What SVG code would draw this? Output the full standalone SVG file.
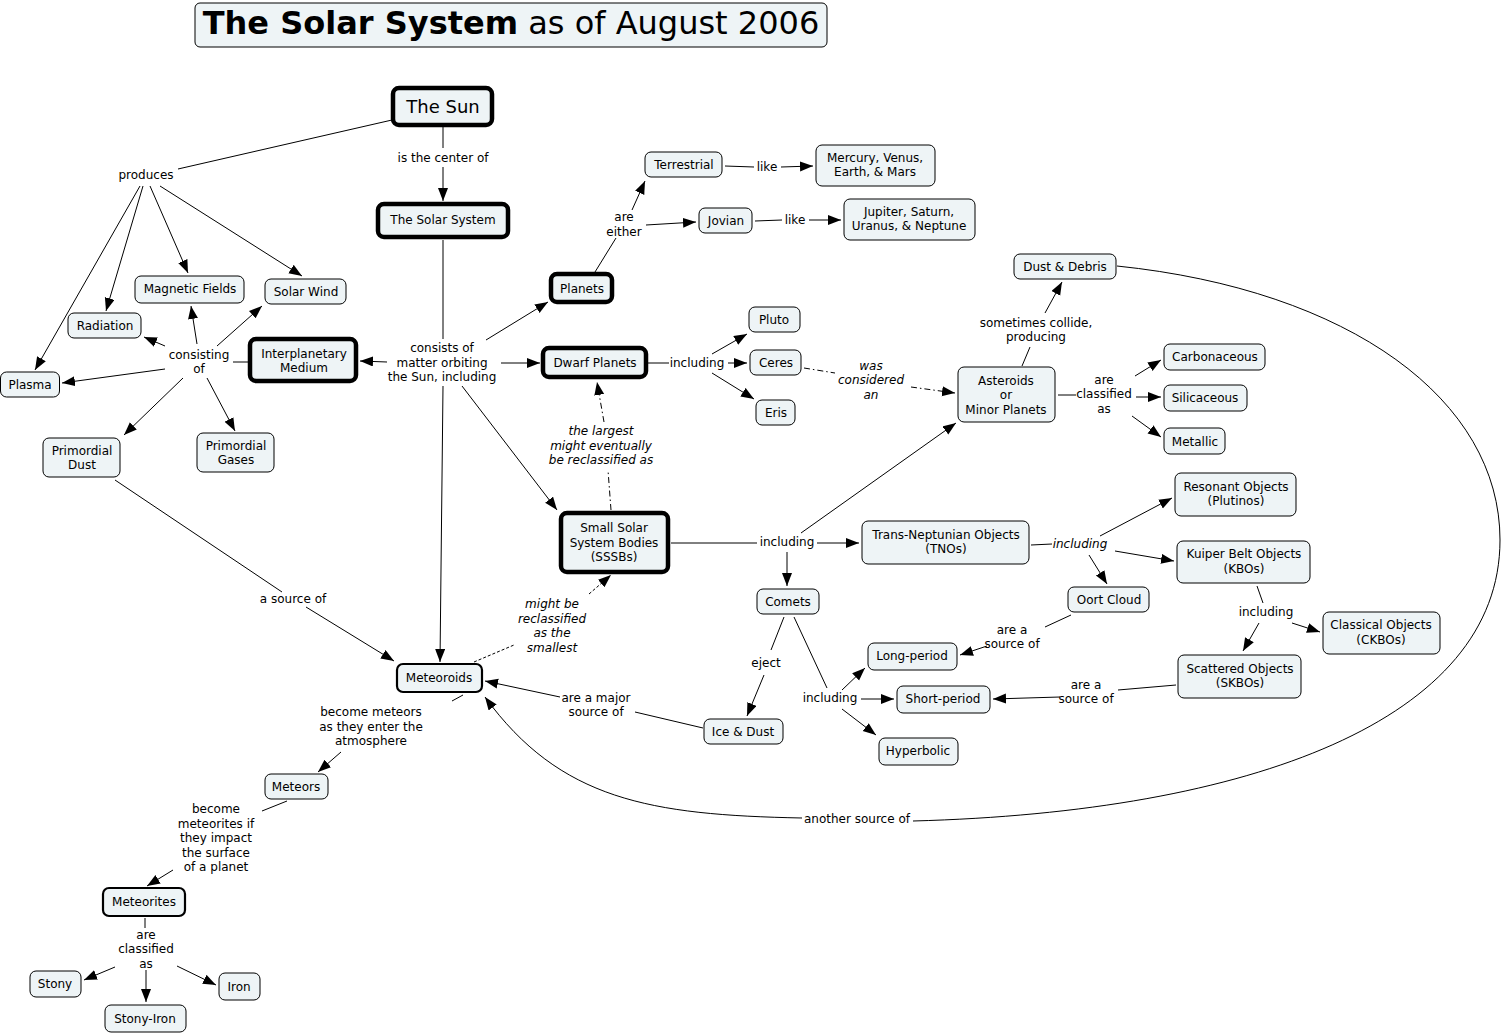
<svg xmlns="http://www.w3.org/2000/svg" width="1503" height="1035" viewBox="0 0 1503 1035">
<style>
text{font-family:"DejaVu Sans","Verdana",sans-serif;font-size:12px;fill:#000;text-anchor:middle}
.n rect{fill:#EEF4F6;stroke:#000;stroke-width:1}
.t rect{stroke-width:4.5}
.m rect{stroke-width:2.2}
.c line,.c path{stroke:#000;stroke-width:1;fill:none}
.c .a{marker-end:url(#ah)}
.c .d{stroke-dasharray:6 3 1.5 3}
.c .ds{stroke-dasharray:3 2}
.i{font-style:italic}
</style>
<defs>
<marker id="ah" markerUnits="userSpaceOnUse" markerWidth="14" markerHeight="12" refX="13" refY="5" orient="auto">
<path d="M0,0 L13,5 L0,10 Z" fill="#000"/>
</marker>
</defs>
<rect width="1503" height="1035" fill="#fff"/>
<g id="title" class="n"><rect x="195" y="3" width="632" height="44" rx="5"/><text x="511" y="34" style="font-size:32px"><tspan font-weight="bold">The Solar System</tspan> as of August 2006</text></g>

<g class="c" id="connectors">
<line x1="392" y1="120" x2="178" y2="169"/>
<line class="a" x1="140" y1="186" x2="35" y2="370"/>
<line class="a" x1="143" y1="186" x2="106" y2="311"/>
<line class="a" x1="150" y1="186" x2="188" y2="273"/>
<line class="a" x1="160" y1="186" x2="302" y2="276"/>
<line x1="443" y1="127" x2="443" y2="148"/>
<line class="a" x1="443" y1="167" x2="443" y2="201"/>
<line x1="443" y1="240" x2="443" y2="339"/>
<line class="a" x1="387" y1="362" x2="360" y2="361"/>
<line class="a" x1="486" y1="340" x2="548" y2="302"/>
<line class="a" x1="501" y1="363" x2="540" y2="363"/>
<line class="a" x1="462" y1="386" x2="557" y2="510"/>
<line class="a" x1="443" y1="386" x2="440" y2="662"/>
<line x1="248" y1="362" x2="233" y2="362"/>
<line class="a" x1="165" y1="346" x2="144" y2="337"/>
<line class="a" x1="197" y1="344" x2="191" y2="306"/>
<line class="a" x1="217" y1="346" x2="262" y2="306"/>
<line class="a" x1="165" y1="369" x2="62" y2="383"/>
<line class="a" x1="183" y1="378" x2="124" y2="435"/>
<line class="a" x1="207" y1="378" x2="235" y2="431"/>
<line x1="595" y1="272" x2="616" y2="238"/>
<line class="a" x1="632" y1="210" x2="645" y2="181"/>
<line class="a" x1="646" y1="225" x2="696" y2="222"/>
<line x1="725" y1="166" x2="754" y2="167"/>
<line class="a" x1="781" y1="167" x2="813" y2="166"/>
<line x1="755" y1="221" x2="782" y2="220"/>
<line class="a" x1="809" y1="220" x2="841" y2="220"/>
<line x1="648" y1="363" x2="669" y2="363"/>
<line class="a" x1="712" y1="354" x2="747" y2="334"/>
<line class="a" x1="728" y1="363" x2="747" y2="363"/>
<line class="a" x1="712" y1="373" x2="754" y2="399"/>
<line class="d" x1="804" y1="368" x2="835" y2="373"/>
<line class="a d" x1="911" y1="387" x2="955" y2="393"/>
<line class="d" x1="611" y1="510" x2="608" y2="470"/>
<line class="a d" x1="604" y1="422" x2="597" y2="382"/>
<line class="ds" x1="474" y1="662" x2="514" y2="645"/>
<line class="a ds" x1="589" y1="594" x2="611" y2="575"/>
<line x1="671" y1="543" x2="757" y2="543"/>
<line class="a" x1="817" y1="543" x2="859" y2="543"/>
<line class="a" x1="787" y1="552" x2="787" y2="586"/>
<line class="a" x1="801" y1="533" x2="956" y2="423"/>
<line x1="1022" y1="366" x2="1030" y2="347"/>
<line class="a" x1="1045" y1="313" x2="1062" y2="282"/>
<line x1="1058" y1="395" x2="1076" y2="395"/>
<line class="a" x1="1135" y1="376" x2="1161" y2="360"/>
<line class="a" x1="1136" y1="397" x2="1161" y2="397"/>
<line class="a" x1="1132" y1="416" x2="1161" y2="437"/>
<line x1="1031" y1="545" x2="1052" y2="544"/>
<line class="a" x1="1100" y1="536" x2="1172" y2="498"/>
<line class="a" x1="1115" y1="551" x2="1174" y2="561"/>
<line class="a" x1="1089" y1="555" x2="1107" y2="584"/>
<line x1="1257" y1="586" x2="1263" y2="603"/>
<line class="a" x1="1292" y1="623" x2="1320" y2="632"/>
<line class="a" x1="1259" y1="623" x2="1243" y2="651"/>
<line x1="1071" y1="615" x2="1045" y2="627"/>
<line class="a" x1="987" y1="646" x2="960" y2="655"/>
<line x1="1176" y1="685" x2="1118" y2="690"/>
<line class="a" x1="1060" y1="697" x2="993" y2="699"/>
<line x1="784" y1="617" x2="771" y2="650"/>
<line class="a" x1="764" y1="675" x2="747" y2="716"/>
<line x1="794" y1="617" x2="827" y2="688"/>
<line class="a" x1="842" y1="690" x2="865" y2="668"/>
<line class="a" x1="861" y1="699" x2="894" y2="699"/>
<line class="a" x1="842" y1="709" x2="876" y2="735"/>
<line x1="703" y1="728" x2="635" y2="712"/>
<line class="a" x1="560" y1="697" x2="485" y2="681"/>
<line x1="115" y1="480" x2="282" y2="592"/>
<line class="a" x1="306" y1="607" x2="394" y2="661"/>
<path d="M1117,266 C1350,290 1500,400 1500,540 C1500,720 1250,812 913,821"/>
<path class="a" d="M802,818 C650,815 560,800 485,697"/>
<line x1="463" y1="695" x2="452" y2="701"/>
<line class="a" x1="341" y1="752" x2="318" y2="772"/>
<line x1="287" y1="801" x2="262" y2="811"/>
<line class="a" x1="173" y1="870" x2="147" y2="886"/>
<line x1="145" y1="918" x2="145" y2="928"/>
<line class="a" x1="115" y1="967" x2="84" y2="980"/>
<line class="a" x1="146" y1="970" x2="146" y2="1002"/>
<line class="a" x1="177" y1="966" x2="216" y2="985"/>
</g>

<g id="labels">
<text x="146" y="179">produces</text>
<text x="443" y="162">is the center of</text>
<text x="199" y="359">consisting</text><text x="199" y="373">of</text>
<text x="442" y="352">consists of</text><text x="442" y="367">matter orbiting</text><text x="442" y="381">the Sun, including</text>
<text x="624" y="221">are</text><text x="624" y="236">either</text>
<text x="767" y="171">like</text>
<text x="795" y="224">like</text>
<text x="697" y="367">including</text>
<text class="i" x="871" y="370">was</text><text class="i" x="871" y="384">considered</text><text class="i" x="871" y="399">an</text>
<text class="i" x="601" y="435">the largest</text><text class="i" x="601" y="450">might eventually</text><text class="i" x="601" y="464">be reclassified as</text>
<text x="1036" y="327">sometimes collide,</text><text x="1036" y="341">producing</text>
<text x="1104" y="384">are</text><text x="1104" y="398">classified</text><text x="1104" y="413">as</text>
<text x="787" y="546">including</text>
<text class="i" x="1080" y="548">including</text>
<text x="1266" y="616">including</text>
<text class="i" x="552" y="608">might be</text><text class="i" x="552" y="623">reclassified</text><text class="i" x="552" y="637">as the</text><text class="i" x="552" y="652">smallest</text>
<text x="293" y="603">a source of</text>
<text x="596" y="702">are a major</text><text x="596" y="716">source of</text>
<text x="766" y="667">eject</text>
<text x="830" y="702">including</text>
<text x="1012" y="634">are a</text><text x="1012" y="648">source of</text>
<text x="1086" y="689">are a</text><text x="1086" y="703">source of</text>
<text x="371" y="716">become meteors</text><text x="371" y="731">as they enter the</text><text x="371" y="745">atmosphere</text>
<text x="216" y="813">become</text><text x="216" y="828">meteorites if</text><text x="216" y="842">they impact</text><text x="216" y="857">the surface</text><text x="216" y="871">of a planet</text>
<text x="146" y="939">are</text><text x="146" y="953">classified</text><text x="146" y="968">as</text>
<text x="857" y="823">another source of</text>
</g>

<g id="sun" class="n t"><rect x="393" y="88" width="99" height="37" rx="6"/><text x="443" y="113" style="font-size:18px">The Sun</text></g>
<g id="solarsystem" class="n t"><rect x="378" y="204" width="130" height="33" rx="6"/><text x="443" y="224">The Solar System</text></g>
<g id="planets" class="n t"><rect x="551" y="274" width="61" height="28" rx="6"/><text x="582" y="293">Planets</text></g>
<g id="dwarf" class="n t"><rect x="543" y="348" width="103" height="29" rx="6"/><text x="595" y="367">Dwarf Planets</text></g>
<g id="sssb" class="n t"><rect x="561" y="513" width="107" height="59" rx="6"/><text x="614" y="532">Small Solar</text><text x="614" y="547">System Bodies</text><text x="614" y="561">(SSSBs)</text></g>
<g id="interplanetary" class="n t"><rect x="250" y="339" width="106" height="42" rx="6"/><text x="304" y="358">Interplanetary</text><text x="304" y="372">Medium</text></g>
<g id="meteoroids" class="n m"><rect x="397" y="664" width="85" height="28" rx="6"/><text x="439" y="682">Meteoroids</text></g>
<g id="meteorites" class="n m"><rect x="103" y="888" width="82" height="28" rx="6"/><text x="144" y="906">Meteorites</text></g>
<g id="terrestrial" class="n"><rect x="645" y="152" width="77" height="25" rx="6"/><text x="684" y="169">Terrestrial</text></g>
<g id="mvem" class="n"><rect x="816" y="145" width="119" height="41" rx="6"/><text x="875" y="162">Mercury, Venus,</text><text x="875" y="176">Earth, &amp; Mars</text></g>
<g id="jovian" class="n"><rect x="699" y="208" width="53" height="25" rx="6"/><text x="726" y="225">Jovian</text></g>
<g id="jsun" class="n"><rect x="844" y="199" width="131" height="41" rx="6"/><text x="909" y="216">Jupiter, Saturn,</text><text x="909" y="230">Uranus, &amp; Neptune</text></g>
<g id="magnetic" class="n"><rect x="135" y="276" width="109" height="27" rx="6"/><text x="190" y="293">Magnetic Fields</text></g>
<g id="solarwind" class="n"><rect x="265" y="279" width="81" height="25" rx="6"/><text x="306" y="296">Solar Wind</text></g>
<g id="radiation" class="n"><rect x="68" y="313" width="73" height="25" rx="6"/><text x="105" y="330">Radiation</text></g>
<g id="plasma" class="n"><rect x="0.5" y="372" width="59" height="25" rx="6"/><text x="30" y="389">Plasma</text></g>
<g id="pdust" class="n"><rect x="43" y="438" width="77" height="39" rx="6"/><text x="82" y="455">Primordial</text><text x="82" y="469">Dust</text></g>
<g id="pgases" class="n"><rect x="197" y="433" width="77" height="39" rx="6"/><text x="236" y="450">Primordial</text><text x="236" y="464">Gases</text></g>
<g id="pluto" class="n"><rect x="749" y="307" width="51" height="25" rx="6"/><text x="774" y="324">Pluto</text></g>
<g id="ceres" class="n"><rect x="750" y="350" width="51" height="25" rx="6"/><text x="776" y="367">Ceres</text></g>
<g id="eris" class="n"><rect x="756" y="400" width="39" height="25" rx="6"/><text x="776" y="417">Eris</text></g>
<g id="dustdebris" class="n"><rect x="1014" y="254" width="102" height="25" rx="6"/><text x="1065" y="271">Dust &amp; Debris</text></g>
<g id="asteroids" class="n"><rect x="958" y="367" width="97" height="55" rx="6"/><text x="1006" y="385">Asteroids</text><text x="1006" y="399">or</text><text x="1006" y="414">Minor Planets</text></g>
<g id="carbon" class="n"><rect x="1164" y="344" width="101" height="26" rx="6"/><text x="1215" y="361">Carbonaceous</text></g>
<g id="silic" class="n"><rect x="1164" y="385" width="83" height="26" rx="6"/><text x="1205" y="402">Silicaceous</text></g>
<g id="metallic" class="n"><rect x="1164" y="428" width="61" height="26" rx="6"/><text x="1195" y="446">Metallic</text></g>
<g id="resonant" class="n"><rect x="1175" y="473" width="121" height="43" rx="6"/><text x="1236" y="491">Resonant Objects</text><text x="1236" y="505">(Plutinos)</text></g>
<g id="kbo" class="n"><rect x="1177" y="541" width="133" height="42" rx="6"/><text x="1244" y="558">Kuiper Belt Objects</text><text x="1244" y="573">(KBOs)</text></g>
<g id="tno" class="n"><rect x="862" y="521" width="167" height="43" rx="6"/><text x="946" y="539">Trans-Neptunian Objects</text><text x="946" y="553">(TNOs)</text></g>
<g id="oort" class="n"><rect x="1068" y="587" width="81" height="25" rx="6"/><text x="1109" y="604">Oort Cloud</text></g>
<g id="classical" class="n"><rect x="1323" y="612" width="117" height="42" rx="6"/><text x="1381" y="629">Classical Objects</text><text x="1381" y="644">(CKBOs)</text></g>
<g id="scattered" class="n"><rect x="1178" y="655" width="123" height="43" rx="6"/><text x="1240" y="673">Scattered Objects</text><text x="1240" y="687">(SKBOs)</text></g>
<g id="comets" class="n"><rect x="757" y="589" width="62" height="25" rx="6"/><text x="788" y="606">Comets</text></g>
<g id="longp" class="n"><rect x="868" y="643" width="89" height="27" rx="6"/><text x="912" y="660">Long-period</text></g>
<g id="shortp" class="n"><rect x="897" y="686" width="93" height="27" rx="6"/><text x="943" y="703">Short-period</text></g>
<g id="hyper" class="n"><rect x="879" y="738" width="79" height="27" rx="6"/><text x="918" y="755">Hyperbolic</text></g>
<g id="icedust" class="n"><rect x="704" y="719" width="79" height="25" rx="6"/><text x="743" y="736">Ice &amp; Dust</text></g>
<g id="meteors" class="n"><rect x="265" y="774" width="63" height="25" rx="6"/><text x="296" y="791">Meteors</text></g>
<g id="stony" class="n"><rect x="30" y="971" width="51" height="26" rx="6"/><text x="55" y="988">Stony</text></g>
<g id="stonyiron" class="n"><rect x="105" y="1005" width="81" height="27" rx="6"/><text x="145" y="1023">Stony-Iron</text></g>
<g id="iron" class="n"><rect x="219" y="973" width="41" height="27" rx="6"/><text x="239" y="991">Iron</text></g>
</svg>
